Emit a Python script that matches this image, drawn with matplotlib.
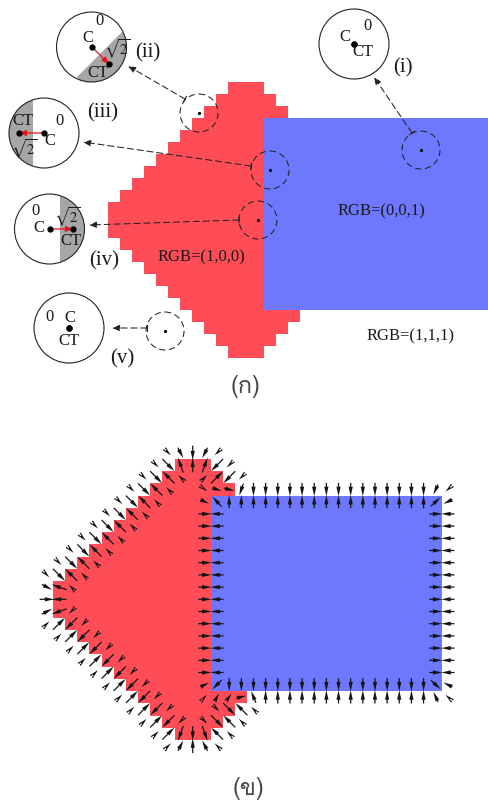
import matplotlib
matplotlib.use("Agg")
import matplotlib.pyplot as plt
import numpy as np
from matplotlib import font_manager as fm
from matplotlib.ft2font import FT2Font
from matplotlib.colors import ListedColormap
from matplotlib.patches import Circle, Polygon, FancyArrowPatch

plt.rcParams['font.family'] = ['Liberation Serif', 'DejaVu Serif']
plt.rcParams['mathtext.fontset'] = 'stix'

# ---------- shape data (grid cells) ----------
red_left = [10, 9, 8, 7, 6, 5, 4, 3, 2, 1, 0, 0, 0, 1, 2, 3, 4, 5, 6, 7, 8, 9, 10]
red_right = [13, 14, 15] + [13] * 16 + [16, 15, 14, 13]
blue_rows = (3, 19)
blue_cols = (13, 32)
RED = '#FF4D57'
BLUE = '#6E78FF'

# ---------- arrow data (cell, direction in cells) ----------
vert_rows = list(range(4, 18))
top_cols_above = list(range(16, 31))
top_cols_below = list(range(14, 31))
bot_cols_above = list(range(14, 31))
bot_cols_below = list(range(17, 31))
diag_ul_rows = [1, 2, 3, 4, 5, 6, 7, 8, 9]
diag_ll_rows = [13, 14, 15, 16, 17, 18, 19, 20, 21]
diag_ur_rows = [1]
diag_lr_rows = [20, 21]
special_col = [9, 10, 11, 12, 13, 9, 10, 11, 12, 13, 14, 8,
               9, 10, 11, 12, 13, 9, 10, 11, 12, 13, 14, 8,
               -1, 0, -1, 0, 1, -1, 0, 1,
               12, 13, 14, 15, 12, 13,
               12, 12, 13, 13, 14, 15, 16,
               31, 32, 31, 32, 31, 32, 31, 32]
special_row = [-1, -1, -1, -1, -1, 0, 0, 0, 0, 0, 0, 0,
               23, 23, 23, 23, 23, 22, 22, 22, 22, 22, 22, 22,
               11, 11, 10, 10, 10, 12, 12, 12,
               2, 2, 2, 2, 3, 3,
               19, 18, 18, 19, 19, 19, 19,
               2, 2, 3, 3, 19, 19, 18, 18]
special_du = [.4, .44, 0, -.44, -.4, 1, -.44, 0, .44, -1, -.4, .4,
              .4, .44, 0, -.44, -.4, 1, -.44, 0, .44, -1, -.4, .4,
              1.2, -1.2, .85, -1.25, -.4, .85, -1.25, -.4,
              .4, .77, .88, -.33, .68, -.77,
              .33, .68, -.77, .33, .4, .82, -.4,
              -.38, -.4, .8, -.74, -.38, -.4, .8, -.74]
special_dv = [.4, .85, 1.2, .85, .4, 1, -1.23, -1.2, -1.23, 1, .4, .4,
              -.4, -.85, -1.2, -.85, -.4, -1, 1.23, 1.2, 1.23, -1, -.4, -.4,
              0, 0, .44, -.44, -.4, -.44, .44, .4,
              .3, .27, .22, .96, .33, -.82,
              -.36, -.33, .77, -.6, -.55, -.19, -.96,
              .82, .35, -.74, .36, -.82, -.35, .74, -.36]

# ---------- inset data ----------
zoom_cx = [421, 199, 270, 258, 165]
zoom_cy = [150, 113, 170, 220, 331]
inset_cx = [354, 91.5, 44, 49.5, 69]
inset_cy = [44, 47, 133, 229, 328]
arrow_from = [(412, 133), (185, 99), (251, 166), (239, 220), (147, 328)]
arrow_to = [(374, 77), (128, 66), (83, 142), (89, 225), (112, 328)]
c_pts = [(354, 44), (92, 47), (44, 133), (49.5, 229), (69, 328)]
ct_pts = [(354, 44), (109, 64), (19, 133), (73, 229), (69, 328)]
labels_small = [("C", 345, 37), ("0", 367, 26), ("CT", 363, 52),
                ("0", 99, 21), ("C", 88, 38), ("CT", 98, 73),
                ("CT", 23, 121), ("0", 59, 121), ("C", 50, 141),
                ("0", 36, 211), ("C", 39, 228), ("CT", 71, 241),
                ("0", 50, 317), ("C", 70, 318), ("CT", 69, 341),
                ("RGB=(1,0,0)", 201, 257), ("RGB=(0,0,1)", 381, 211), ("RGB=(1,1,1)", 411, 336)]
roots = [(r"$\sqrt{2}$", 117, 49), (r"$\sqrt{2}$", 24, 149), (r"$\sqrt{2}$", 67, 217)]
labels_big = [("(i)", 403, 68), ("(ii)", 148, 53), ("(iii)", 103, 113), ("(iv)", 104, 261), ("(v)", 122, 359)]

# ---------- figure ----------
fig = plt.figure(figsize=(4.88, 8.02), dpi=100)
ax = fig.add_axes([0, 0, 1, 1])

Z = np.zeros((len(red_left), blue_cols[1]), dtype=float)
for r, (a, b) in enumerate(zip(red_left, red_right)):
    Z[r, a:b] = 1
Z[blue_rows[0]:blue_rows[1], blue_cols[0]:blue_cols[1]] = 2
Zm = np.ma.masked_equal(Z, 0)
cmap = ListedColormap([RED, BLUE])


def draw_shape(x0, y0, cx, cy):
    ax.imshow(Zm, cmap=cmap, vmin=1, vmax=2, interpolation='nearest', aspect='auto', origin='upper',
              extent=(x0, x0 + Z.shape[1] * cx, y0 + Z.shape[0] * cy, y0), zorder=1)


draw_shape(108, 82, 12, 12)
draw_shape(53, 459, 12.15, 12.2)

# field arrows of the lower panel
cols, rows, du, dv = [], [], [], []


def add(c, r, u, v):
    cols.append(c); rows.append(r); du.append(u); dv.append(v)


for r in vert_rows:
    add(12, r, 1.08, 0); add(13, r, -1.08, 0)
    add(31, r, 1.08, 0); add(32, r, -1.08, 0)
for c in top_cols_above:
    add(c, 2, 0, 1.08)
for c in top_cols_below:
    add(c, 3, 0, -1.08)
for c in bot_cols_above:
    add(c, 18, 0, 1.08)
for c in bot_cols_below:
    add(c, 19, 0, -1.08)
for r in diag_ul_rows + diag_ll_rows:
    s = 1 if r < 11 else -1
    L = red_left[r]
    add(L - 2, r, .4, .4 * s); add(L - 1, r, 1, 1 * s)
    add(L, r, -1, -1 * s); add(L + 1, r, -.4, -.4 * s)
for r in diag_ur_rows + diag_lr_rows:
    s = 1 if r < 11 else -1
    R = red_right[r]
    add(R - 2, r, .4, -.4 * s); add(R - 1, r, 1, -1 * s)
    add(R, r, -1, 1 * s); add(R + 1, r, -.4, .4 * s)
for c, r, u, v in zip(special_col, special_row, special_du, special_dv):
    add(c, r, u, v)

X = 53 + (np.array(cols) + .5) * 12.15
Y = 459 + (np.array(rows) + .5) * 12.2
U = np.array(du) * 12.15
V = np.array(dv) * 12.2
ax.quiver(X, Y, U, V, angles='xy', scale_units='xy', scale=1, pivot='mid', color='#151515',
          units='dots', width=1.25, headwidth=3.4, headlength=7.5, headaxislength=7.5,
          minlength=0, minshaft=0.5, zorder=3)

# gray parts of insets, clipped to the circle
gray_polys = [
    [(122, 32), (77, 77), (100, 110), (160, 60)],
    [(33, 90), (33, 180), (0, 180), (0, 90)],
    [(60, 180), (60, 280), (100, 280), (100, 180)],
]
for poly, i in zip(gray_polys, [1, 2, 3]):
    clip = Circle((inset_cx[i], inset_cy[i]), 35, transform=ax.transData)
    p = Polygon(poly, closed=True, fc='#A6A6A6', ec='none', zorder=4)
    ax.add_patch(p)
    p.set_clip_path(clip)

for x, y in zip(inset_cx, inset_cy):
    ax.add_patch(Circle((x, y), 35, fc='none', ec='#222222', lw=0.8, zorder=5))
for x, y in zip(zoom_cx, zoom_cy):
    ax.add_patch(Circle((x, y), 19, fc='none', ec='#222222', lw=0.75, ls=(0, (6, 3.5)), zorder=5))
    ax.plot([x], [y], 'o', ms=1.3, color='black', zorder=6)

for a, b in zip(arrow_from, arrow_to):
    ax.add_patch(FancyArrowPatch(a, b, arrowstyle='-|>,head_width=0.13,head_length=0.32',
                                 mutation_scale=14, lw=0.75, ls=(0, (6, 3.5)), color='#222222',
                                 shrinkA=0, shrinkB=0, zorder=5))
    dx, dy = b[0] - a[0], b[1] - a[1]
    n = np.hypot(dx, dy)
    ax.plot([a[0] - dy / n * 3, a[0] + dy / n * 3], [a[1] + dx / n * 3, a[1] - dx / n * 3],
            color='#222222', lw=0.75, zorder=5)

for c, t in zip(c_pts, ct_pts):
    if c != t:
        ax.add_patch(FancyArrowPatch(c, t, arrowstyle='-|>,head_width=0.12,head_length=0.3',
                                     mutation_scale=14, lw=0.9, color='#E8141C',
                                     shrinkA=0, shrinkB=0, zorder=6))
    ax.plot([c[0], t[0]], [c[1], t[1]], 'o', ms=3.5, color='black', ls='none', zorder=7)

for s, x, y in labels_small:
    ax.text(x, y, s, fontsize=12, ha='center', va='center', color='#1a1a1a', zorder=8)
for s, x, y in roots:
    ax.text(x, y, s, fontsize=10.5, ha='center', va='center', color='#1a1a1a', zorder=8)
for s, x, y in labels_big:
    ax.text(x, y, s, fontsize=15, ha='center', va='center', color='#1a1a1a', zorder=8)

# captions in Thai: use an installed regular-weight font that carries Thai letters
thai = None
for path in sorted(fm.findSystemFonts()):
    name = path.rsplit('/', 1)[-1]
    if any(w in name for w in ('Bold', 'Oblique', 'Italic')):
        continue
    try:
        if 0x0E01 in FT2Font(path).get_charmap():
            if thai is None or name.startswith('Loma'):
                thai = path
    except Exception:
        pass
kw = {'font': fm.FontProperties(fname=thai)} if thai else {}
ax.text(246, 386, "(ก)", fontsize=17, ha='center', va='center', color='#444444', **kw)
ax.text(248, 789, "(ข)", fontsize=17, ha='center', va='center', color='#444444', **kw)

ax.set_xlim(0, 488)
ax.set_ylim(802, 0)
ax.axis('off')
fig.savefig('out.png', dpi=100, facecolor='white')
